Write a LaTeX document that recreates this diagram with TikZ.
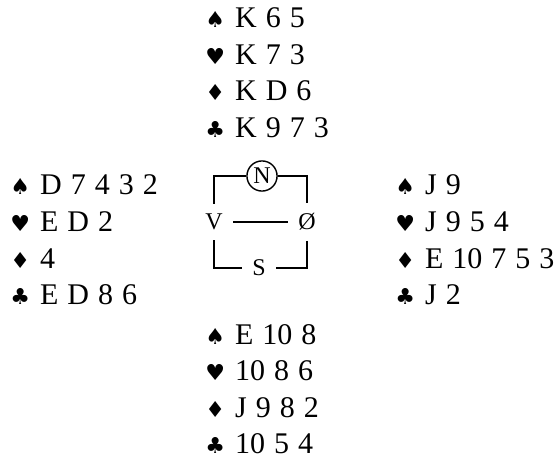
\documentclass[tikz,border=0pt]{standalone}
\usepackage{fontspec}
\setmainfont{Liberation Serif}[WordSpace=1.2]
\newfontfamily\suitfont{DejaVu Sans}
\newcommand{\suitsym}[1]{{\suitfont\fontsize{11}{11}\selectfont #1}\hspace{5pt}}
\newcommand{\spd}{\suitsym{♠}}
\newcommand{\hrt}{\suitsym{♥}}
\newcommand{\dia}{\suitsym{♦}}
\newcommand{\clb}{\suitsym{♣}}

\begin{document}
\begin{tikzpicture}[
  x=0.5pt, y=-0.5pt,
  hand/.style={anchor=base west, inner sep=0pt, font=\fontsize{15}{18}\selectfont},
  seat/.style={inner sep=5pt, font=\fontsize{12}{13}\selectfont},
  frame/.style={line width=0.7pt}
]
\useasboundingbox (0,0) rectangle (560,475);

% the four hands
\foreach \t [count=\i from 0] in {{\spd K 6 5},{\hrt K 7 3},{\dia K D 6},{\clb K 9 7 3}}
  \node[hand] (north-\i) at (205,28+36.5*\i) {\t};
\foreach \t [count=\i from 0] in {{\spd D 7 4 3 2},{\hrt E D 2},{\dia 4},{\clb E D 8 6}}
  \node[hand] (west-\i) at (10,195+36.5*\i) {\t};
\foreach \t [count=\i from 0] in {{\spd J 9},{\hrt J 9 5 4},{\dia E 10 7 5 3},{\clb J 2}}
  \node[hand] (east-\i) at (395,195+36.5*\i) {\t};
\foreach \t [count=\i from 0] in {{\spd E 10 8},{\hrt 10 8 6},{\dia J 9 8 2},{\clb 10 5 4}}
  \node[hand] (south-\i) at (205,344+36.5*\i) {\t};

% compass
\node[circle, draw, frame, inner sep=1.2pt, font=\fontsize{12}{13}\selectfont] (n) at (262,176) {N};
\node[seat] (v) at (214,222) {V};
\node[seat] (o) at (307,222) {Ø};
\node[seat] (s) at (259,268) {S};
\draw[frame] (n) -| (v);
\draw[frame] (n) -| (o);
\draw[frame] (v) |- (s);
\draw[frame] (o) |- (s);
\draw[frame] (v) -- (o);
\end{tikzpicture}
\end{document}
